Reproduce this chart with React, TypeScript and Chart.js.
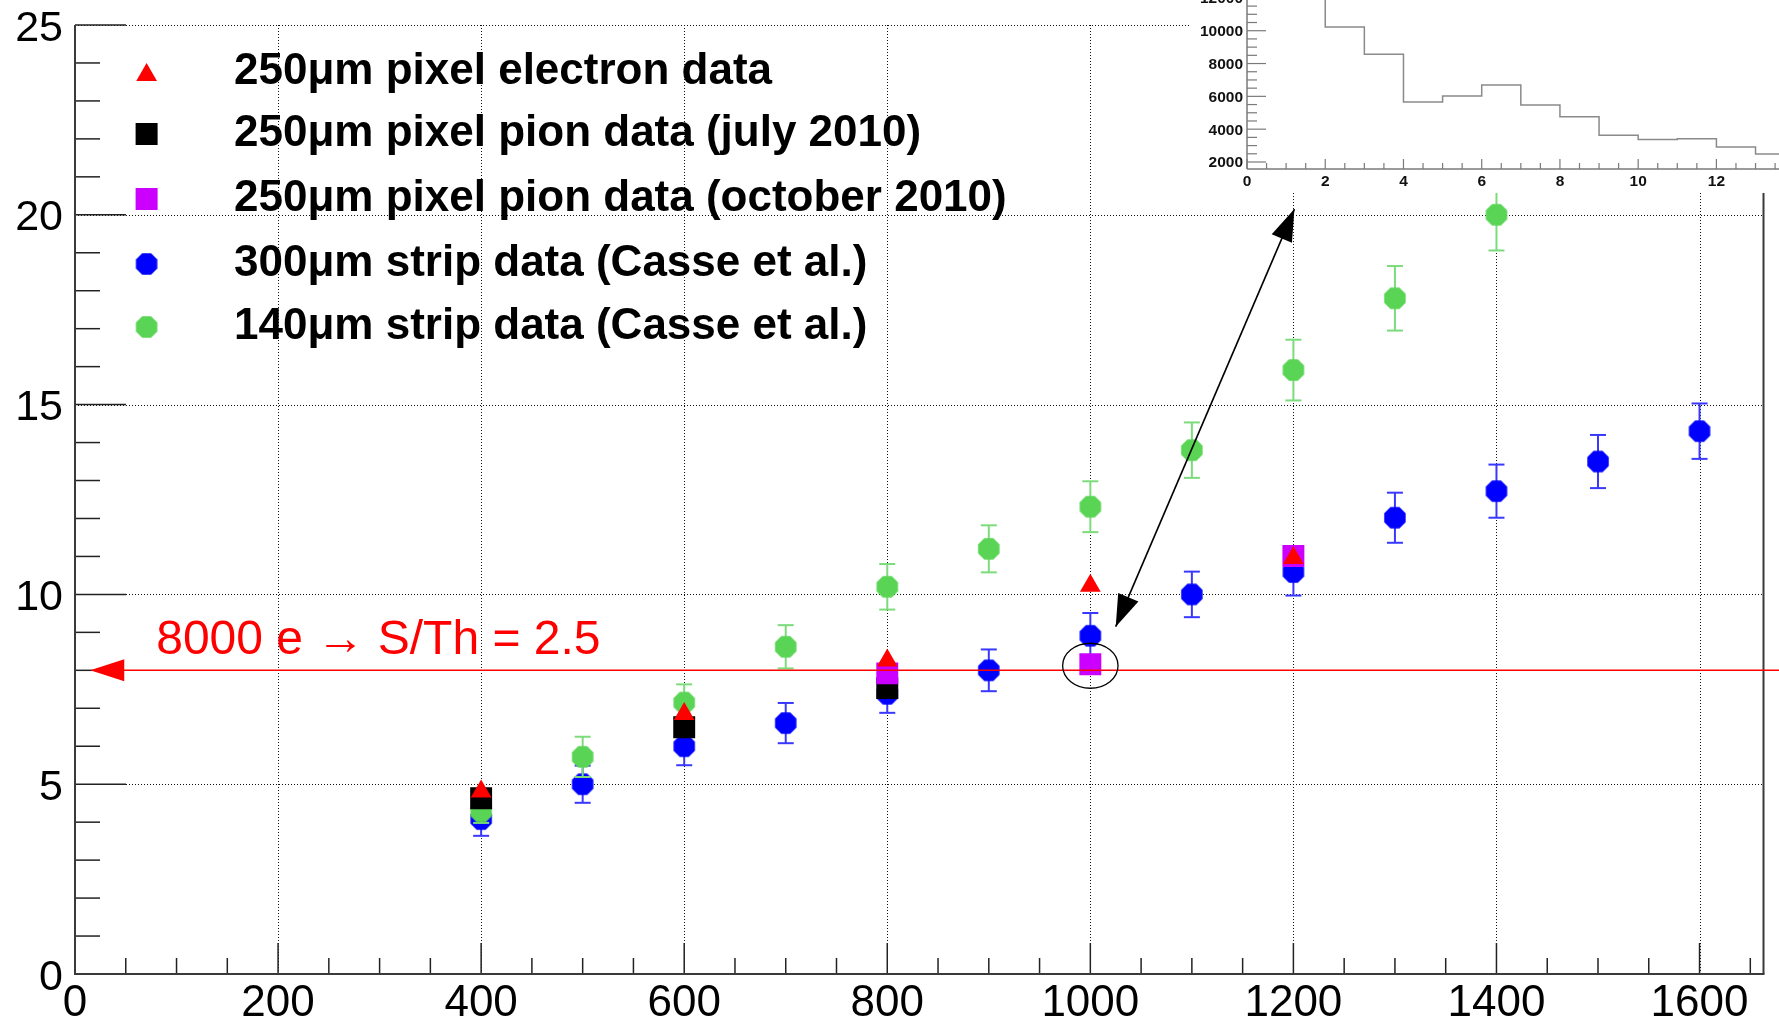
import React, { useEffect, useRef } from 'react';
import { Chart, registerables } from 'chart.js';

Chart.register(...registerables);

const FONT = '"Liberation Sans", Arial, Helvetica, sans-serif';

// Collected signal (ke-) versus bias voltage (V)
const pixelElectronBias = [400, 600, 800, 1000, 1200];
const pixelElectronSignal = [4.81, 6.85, 8.26, 10.23, 10.96];

const pixelPionJulyBias = [400, 600, 800];
const pixelPionJulySignal = [4.63, 6.5, 7.53];

const pixelPionOctBias = [800, 1000, 1200];
const pixelPionOctSignal = [7.92, 8.16, 11.01];

const strip300Bias = [400, 500, 600, 700, 800, 900, 1000, 1100, 1200, 1300, 1400, 1500, 1600];
const strip300Signal = [4.08, 5.0, 6.0, 6.61, 7.38, 8.0, 8.91, 10.0, 10.59, 12.02, 12.72, 13.5, 14.3];
const strip300Error = [0.44, 0.49, 0.5, 0.53, 0.5, 0.55, 0.6, 0.6, 0.62, 0.66, 0.7, 0.7, 0.73];

const strip140Bias = [400, 500, 600, 700, 800, 900, 1000, 1100, 1200, 1300, 1400];
const strip140Signal = [4.28, 5.72, 7.15, 8.62, 10.2, 11.2, 12.31, 13.8, 15.91, 17.8, 20.0];
const strip140Error = [0.3, 0.53, 0.48, 0.57, 0.6, 0.62, 0.67, 0.73, 0.8, 0.85, 0.94];

const seriesLabels = [
  '250μm pixel electron data',
  '250μm pixel pion data (july 2010)',
  '250μm pixel pion data (october 2010)',
  '300μm strip data (Casse et al.)',
  '140μm strip data (Casse et al.)',
];

// Main axes
const voltageTicks = [0, 200, 400, 600, 800, 1000, 1200, 1400, 1600];
const signalTicks = [0, 5, 10, 15, 20, 25];
const voltageMax = 1663;
const signalMax = 25;

// Threshold marker and highlighted point
const thresholdSignal = 8;
const thresholdArrowTip = 15;
const thresholdText = '8000 e → S/Th = 2.5';
const thresholdTextAnchor = [80, 8.43];
const highlightPoint = [1000, 8.12];
const zoomArrowFrom = [1025, 9.15];
const zoomArrowTo = [1201, 20.15];

// Inset histogram (bin low edges and counts)
const clusterBins = [0, 1, 2, 3, 4, 5, 6, 7, 8, 9, 10, 11, 12, 13];
const clusterCounts = [21000, 15000, 10220, 8570, 5650, 6020, 6690, 5470, 4750, 3630, 3370, 3410, 2920, 2490];
const insetXTicks = [0, 2, 4, 6, 8, 10, 12];
const insetYTicks = [2000, 4000, 6000, 8000, 10000, 12000];
const insetXMax = 13.6;
const insetYMin = 1573;
const insetYMax = 11872;

const RED = '#ff0000';
const BLACK = '#000000';
const MAGENTA = '#cc00ff';
const BLUE = '#0000ff';
const GREEN = '#59d454';

// octagon marker sprites, created once the DOM is available
let legendMarkers: HTMLCanvasElement[] = [];

function makeOctagon(color: string, r: number) {
  const size = 24;
  const c = document.createElement('canvas');
  c.width = size;
  c.height = size;
  const g = c.getContext('2d')!;
  g.fillStyle = color;
  g.beginPath();
  for (let k = 0; k < 8; k++) {
    const ang = Math.PI / 8 + (k * Math.PI) / 4;
    const px = size / 2 + r * Math.cos(ang);
    const py = size / 2 + r * Math.sin(ang);
    if (k === 0) g.moveTo(px, py);
    else g.lineTo(px, py);
  }
  g.closePath();
  g.fill();
  return c;
}

function toPoints(xs: number[], ys: number[]) {
  return xs.map((v, i) => ({ x: v, y: ys[i] }));
}

function seg(ctx: CanvasRenderingContext2D, x1: number, y1: number, x2: number, y2: number) {
  ctx.beginPath();
  ctx.moveTo(x1, y1);
  ctx.lineTo(x2, y2);
  ctx.stroke();
}

function arrowHead(ctx: CanvasRenderingContext2D, tipX: number, tipY: number, fromX: number, fromY: number, len: number, half: number) {
  const dx = tipX - fromX;
  const dy = tipY - fromY;
  const d = Math.hypot(dx, dy);
  const ux = dx / d;
  const uy = dy / d;
  const bx = tipX - ux * len;
  const by = tipY - uy * len;
  ctx.beginPath();
  ctx.moveTo(tipX, tipY);
  ctx.lineTo(bx - uy * half, by + ux * half);
  ctx.lineTo(bx + uy * half, by - ux * half);
  ctx.closePath();
  ctx.fill();
}

const errorSpecs: Record<number, { xs: number[]; ys: number[]; err: number[]; color: string }> = {
  3: { xs: strip300Bias, ys: strip300Signal, err: strip300Error, color: '#3838ff' },
  4: { xs: strip140Bias, ys: strip140Signal, err: strip140Error, color: '#7cdc7c' },
};

const errorBarPlugin = {
  id: 'errorBars',
  beforeDatasetDraw(chart: any, args: any) {
    const spec = errorSpecs[args.index];
    if (!spec) return;
    const { ctx, scales } = chart;
    const x = scales.x;
    const y = scales.y;
    ctx.save();
    ctx.strokeStyle = spec.color;
    ctx.lineWidth = 2;
    spec.xs.forEach((v, i) => {
      const px = x.getPixelForValue(v);
      const top = y.getPixelForValue(spec.ys[i] + spec.err[i]);
      const bot = y.getPixelForValue(spec.ys[i] - spec.err[i]);
      seg(ctx, px, top, px, bot);
      seg(ctx, px - 8, top, px + 8, top);
      seg(ctx, px - 8, bot, px + 8, bot);
    });
    ctx.restore();
  },
};

const mainAxesPlugin = {
  id: 'mainAxes',
  beforeDatasetsDraw(chart: any) {
    const { ctx, chartArea: a, scales } = chart;
    const x = scales.x;
    const y = scales.y;
    ctx.save();

    // dotted grid
    ctx.strokeStyle = '#111111';
    ctx.lineWidth = 1;
    ctx.setLineDash([1, 2]);
    voltageTicks.forEach((v) => {
      if (v === 0) return;
      const px = Math.round(x.getPixelForValue(v)) + 0.5;
      seg(ctx, px, a.top, px, a.bottom);
    });
    signalTicks.forEach((v) => {
      if (v === 0) return;
      const py = Math.round(y.getPixelForValue(v)) + 0.5;
      seg(ctx, a.left, py, a.right, py);
    });
    ctx.setLineDash([]);

    // tick marks (drawn inside the frame)
    ctx.strokeStyle = '#222222';
    ctx.lineWidth = 1.5;
    for (let v = 0; v <= voltageMax; v += 50) {
      const px = x.getPixelForValue(v);
      const len = v % 200 === 0 ? 31 : 16;
      seg(ctx, px, a.bottom, px, a.bottom - len);
    }
    for (let v = 0; v <= signalMax; v += 1) {
      const py = y.getPixelForValue(v);
      const len = v % 5 === 0 ? 51 : 25;
      seg(ctx, a.left, py, a.left + len, py);
    }

    // frame
    ctx.strokeStyle = '#3a3a3a';
    ctx.lineWidth = 2;
    seg(ctx, a.left, a.top, a.left, a.bottom + 1);
    seg(ctx, a.left - 1, a.bottom, a.right + 1, a.bottom);
    seg(ctx, a.right, a.top, a.right, a.bottom);

    // tick labels
    ctx.fillStyle = '#000000';
    ctx.textBaseline = 'alphabetic';
    ctx.font = `44px ${FONT}`;
    ctx.textAlign = 'center';
    voltageTicks.forEach((v) => {
      ctx.fillText(String(v), x.getPixelForValue(v), a.bottom + 42);
    });
    ctx.font = `43px ${FONT}`;
    ctx.textAlign = 'right';
    signalTicks.forEach((v) => {
      ctx.fillText(String(v), a.left - 12, y.getPixelForValue(v) + 15.5);
    });
    ctx.restore();
  },
};

const annotationPlugin = {
  id: 'annotations',
  afterDatasetsDraw(chart: any) {
    const { ctx, scales, width } = chart;
    const x = scales.x;
    const y = scales.y;
    ctx.save();

    // 8000 e threshold line with arrow
    const yT = y.getPixelForValue(thresholdSignal);
    const xTip = x.getPixelForValue(thresholdArrowTip);
    ctx.strokeStyle = RED;
    ctx.fillStyle = RED;
    ctx.lineWidth = 1.5;
    seg(ctx, xTip + 20, yT, width, yT);
    arrowHead(ctx, xTip, yT, xTip + 50, yT, 34, 11);
    ctx.font = `48px ${FONT}`;
    ctx.textAlign = 'left';
    ctx.textBaseline = 'alphabetic';
    ctx.fillText(thresholdText, x.getPixelForValue(thresholdTextAnchor[0]), y.getPixelForValue(thresholdTextAnchor[1]));

    // ellipse around the highlighted point
    ctx.strokeStyle = BLACK;
    ctx.lineWidth = 1.3;
    ctx.beginPath();
    ctx.ellipse(x.getPixelForValue(highlightPoint[0]), y.getPixelForValue(highlightPoint[1]), 27.7, 22.5, 0, 0, Math.PI * 2);
    ctx.stroke();

    // double-headed arrow pointing to the inset
    const ax = x.getPixelForValue(zoomArrowFrom[0]);
    const ay = y.getPixelForValue(zoomArrowFrom[1]);
    const bx = x.getPixelForValue(zoomArrowTo[0]);
    const by = y.getPixelForValue(zoomArrowTo[1]);
    ctx.fillStyle = BLACK;
    ctx.lineWidth = 1.6;
    seg(ctx, ax, ay, bx, by);
    arrowHead(ctx, ax, ay, bx, by, 32, 11);
    arrowHead(ctx, bx, by, ax, ay, 32, 11);

    // legend
    const rowCenters = [72, 134, 199, 264, 327];
    const mx = 146.6;
    ctx.font = `bold 44px ${FONT}`;
    seriesLabels.forEach((label, i) => {
      const cy = rowCenters[i];
      if (i === 0) {
        ctx.fillStyle = RED;
        const r = 12;
        ctx.beginPath();
        ctx.moveTo(mx, cy - r * 0.75);
        ctx.lineTo(mx + r * 0.866, cy + r * 0.75);
        ctx.lineTo(mx - r * 0.866, cy + r * 0.75);
        ctx.closePath();
        ctx.fill();
      } else if (i === 1 || i === 2) {
        ctx.fillStyle = i === 1 ? BLACK : MAGENTA;
        ctx.fillRect(mx - 11, cy - 11, 22, 22);
      } else if (legendMarkers[i - 3]) {
        ctx.drawImage(legendMarkers[i - 3], mx - 12, cy - 12);
      }
      ctx.fillStyle = BLACK;
      ctx.fillText(label, 234, cy + 11.5);
    });
    ctx.restore();
  },
};

const insetAxesPlugin = {
  id: 'insetAxes',
  afterDatasetsDraw(chart: any) {
    const { ctx, chartArea: a, scales } = chart;
    const x = scales.x;
    const y = scales.y;
    ctx.save();
    ctx.strokeStyle = '#7a7a7a';
    ctx.lineWidth = 1.5;
    seg(ctx, a.left, 0, a.left, a.bottom);
    seg(ctx, a.left, a.bottom, a.right, a.bottom);
    ctx.lineWidth = 1.2;
    for (let v = 0; v <= insetXMax; v += 0.5) {
      const px = x.getPixelForValue(v);
      const len = v % 2 === 0 ? 10 : 6;
      seg(ctx, px, a.bottom, px, a.bottom - len);
    }
    for (let v = 2000; v <= insetYMax + 500; v += 500) {
      const py = y.getPixelForValue(v);
      const len = v % 2000 === 0 ? 19 : 10;
      seg(ctx, a.left, py, a.left + len, py);
    }
    ctx.fillStyle = '#111111';
    ctx.font = `bold 15.5px ${FONT}`;
    ctx.textAlign = 'center';
    ctx.textBaseline = 'alphabetic';
    insetXTicks.forEach((v) => ctx.fillText(String(v), x.getPixelForValue(v), a.bottom + 16.5));
    ctx.textAlign = 'right';
    insetYTicks.forEach((v) => ctx.fillText(String(v), a.left - 4, y.getPixelForValue(v) + 5.5));
    ctx.restore();
  },
};

export default function App() {
  const mainRef = useRef<HTMLCanvasElement>(null);
  const insetRef = useRef<HTMLCanvasElement>(null);

  useEffect(() => {
    const blueOct = makeOctagon(BLUE, 11.6);
    const greenOct = makeOctagon(GREEN, 11.6);
    legendMarkers = [blueOct, greenOct];

    const main = new Chart(mainRef.current!, {
      type: 'scatter',
      data: {
        datasets: [
          {
            label: seriesLabels[0],
            data: toPoints(pixelElectronBias, pixelElectronSignal),
            pointStyle: 'triangle',
            pointRadius: 12,
            backgroundColor: RED,
            borderWidth: 0,
            order: 0,
          },
          {
            label: seriesLabels[1],
            data: toPoints(pixelPionJulyBias, pixelPionJulySignal),
            pointStyle: 'rect',
            pointRadius: 15.5,
            backgroundColor: BLACK,
            borderWidth: 0,
            order: 2,
          },
          {
            label: seriesLabels[2],
            data: toPoints(pixelPionOctBias, pixelPionOctSignal),
            pointStyle: 'rect',
            pointRadius: 15.5,
            backgroundColor: MAGENTA,
            borderWidth: 0,
            order: 1,
          },
          {
            label: seriesLabels[3],
            data: toPoints(strip300Bias, strip300Signal),
            pointStyle: blueOct,
            pointRadius: 11,
            backgroundColor: BLUE,
            borderWidth: 0,
            order: 4,
          },
          {
            label: seriesLabels[4],
            data: toPoints(strip140Bias, strip140Signal),
            pointStyle: greenOct,
            pointRadius: 11,
            backgroundColor: GREEN,
            borderWidth: 0,
            order: 3,
          },
        ],
      } as any,
      options: {
        responsive: false,
        animation: false,
        events: [],
        layout: { padding: { left: 75, right: 11, top: 25, bottom: 46 } },
        scales: {
          x: { type: 'linear', min: 0, max: voltageMax, display: false },
          y: { type: 'linear', min: 0, max: signalMax, display: false },
        },
        plugins: { legend: { display: false }, tooltip: { enabled: false } },
      } as any,
      plugins: [mainAxesPlugin, errorBarPlugin, annotationPlugin] as any,
    });

    // each bin's count spans from its low edge to the next edge
    const histPoints = clusterBins.map((b, i) => ({ x: b, y: clusterCounts[i] }));
    histPoints.push({ x: clusterBins[clusterBins.length - 1] + 1, y: clusterCounts[clusterCounts.length - 1] });

    const inset = new Chart(insetRef.current!, {
      type: 'line',
      data: {
        datasets: [
          {
            data: histPoints,
            stepped: 'before',
            borderColor: '#8a8a8a',
            borderWidth: 1.5,
            pointRadius: 0,
            fill: false,
          },
        ],
      } as any,
      options: {
        responsive: false,
        animation: false,
        events: [],
        layout: { padding: { left: 56, right: 0, top: 0, bottom: 24 } },
        scales: {
          x: { type: 'linear', min: 0, max: insetXMax, display: false },
          y: { type: 'linear', min: insetYMin, max: insetYMax, display: false },
        },
        plugins: { legend: { display: false }, tooltip: { enabled: false } },
      } as any,
      plugins: [insetAxesPlugin] as any,
    });

    return () => {
      main.destroy();
      inset.destroy();
    };
  }, []);

  return (
    <div style={{ position: 'fixed', left: 0, top: 0, width: 1779, height: 1020, background: '#ffffff', overflow: 'hidden' }}>
      <canvas ref={mainRef} width={1779} height={1020} style={{ position: 'absolute', left: 0, top: 0 }} />
      <canvas ref={insetRef} width={588} height={193} style={{ position: 'absolute', left: 1191, top: 0, background: '#ffffff' }} />
    </div>
  );
}
